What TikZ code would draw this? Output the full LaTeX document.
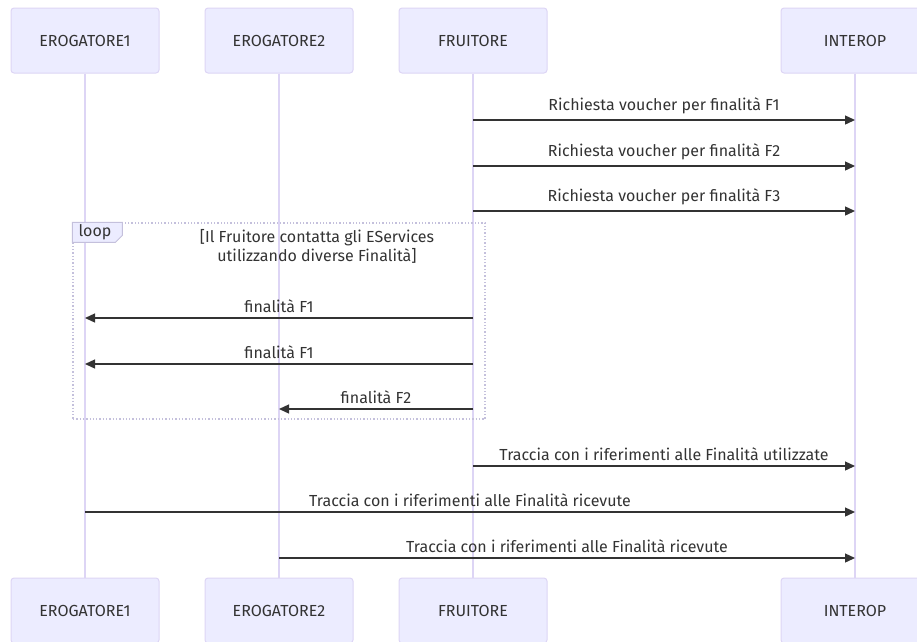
\documentclass[tikz,border=0pt]{standalone}
\usepackage{fontspec}
\setmainfont{Fira Sans}
\usetikzlibrary{arrows.meta,calc,positioning}
\definecolor{actorfill}{HTML}{ECECFF}
\definecolor{actorline}{HTML}{DDD5F5}
\definecolor{msgcol}{HTML}{333333}
\definecolor{framecol}{HTML}{C4C0DC}

\begin{document}
\begin{tikzpicture}[
    x=1pt, y=-1pt,
    every node/.style={font=\fontsize{16}{19}\selectfont,text=msgcol,align=center},
    actor/.style={
        rounded corners=3pt,
        draw=actorline,
        fill=actorfill,
        line width=1pt,
        minimum height=65pt,
        minimum width=148pt,
        inner sep=0pt
    },
    lifeline/.style={draw=actorline,line width=1.5pt},
    message/.style={-{Triangle[length=10pt,width=9pt]},draw=msgcol,line width=1.3pt},
    msglabel/.style={midway,above=5pt,inner sep=0pt},
    frame/.style={draw=framecol,dotted,line width=1.3pt}
]
\useasboundingbox (0,0) rectangle (917,641);
\clip (0,0) rectangle (917,641);

% Participants (top)
\node[actor] (ero1) at (85,40.5) {EROGATORE1};
\node[actor] (ero2) at (279,40.5) {EROGATORE2};
\node[actor] (fru) at (473,40.5) {FRUITORE};
\node[actor] (int) at (855,40.5) {INTEROP};

% Participants (bottom)
\node[actor] (ero1bot) at (85,610.5) {EROGATORE1};
\node[actor] (ero2bot) at (279,610.5) {EROGATORE2};
\node[actor] (frubot) at (473,610.5) {FRUITORE};
\node[actor] (intbot) at (855,610.5) {INTEROP};

% Lifelines
\foreach \p in {ero1,ero2,fru,int}
    \draw[lifeline] (\p.south) -- (\p bot.north);

% Loop frame
\node[frame,minimum width=412pt,minimum height=196pt,inner sep=0pt] (loopframe) at (279,321) {};
\draw[draw=framecol,fill=actorfill,line width=0.8pt] (loopframe.north west) -- ++(50,0) -- ++(0,13)
    -- ++(-7,7) -- ++(-43,0) -- cycle;
\node[anchor=west,inner sep=0pt] (looplabel) at ($(loopframe.north west)+(6,10)$) {loop};
\node[inner sep=0pt] (loopcond) at (317,246)
{[Il Fruitore contatta gli EServices\\
utilizzando diverse Finalità]};

% Message rows
\coordinate (r1) at (0,120);
\coordinate (r2) at (0,166);
\coordinate (r3) at (0,211);
\coordinate (r4) at (0,318);
\coordinate (r5) at (0,364);
\coordinate (r6) at (0,409);
\coordinate (r7) at (0,466);
\coordinate (r8) at (0,512);
\coordinate (r9) at (0,558);

% Messages
\draw[message] (fru |- r1) -- (int |- r1) node[msglabel] {Richiesta voucher per finalità F1};
\draw[message] (fru |- r2) -- (int |- r2) node[msglabel] {Richiesta voucher per finalità F2};
\draw[message] (fru |- r3) -- (int |- r3) node[msglabel] {Richiesta voucher per finalità F3};
\draw[message] (fru |- r4) -- (ero1 |- r4) node[msglabel] {finalità F1};
\draw[message] (fru |- r5) -- (ero1 |- r5) node[msglabel] {finalità F1};
\draw[message] (fru |- r6) -- (ero2 |- r6) node[msglabel] {finalità F2};
\draw[message] (fru |- r7) -- (int |- r7) node[msglabel] {Traccia con i riferimenti alle Finalità utilizzate};
\draw[message] (ero1 |- r8) -- (int |- r8) node[msglabel] {Traccia con i riferimenti alle Finalità ricevute};
\draw[message] (ero2 |- r9) -- (int |- r9) node[msglabel] {Traccia con i riferimenti alle Finalità ricevute};

\end{tikzpicture}
\end{document}
